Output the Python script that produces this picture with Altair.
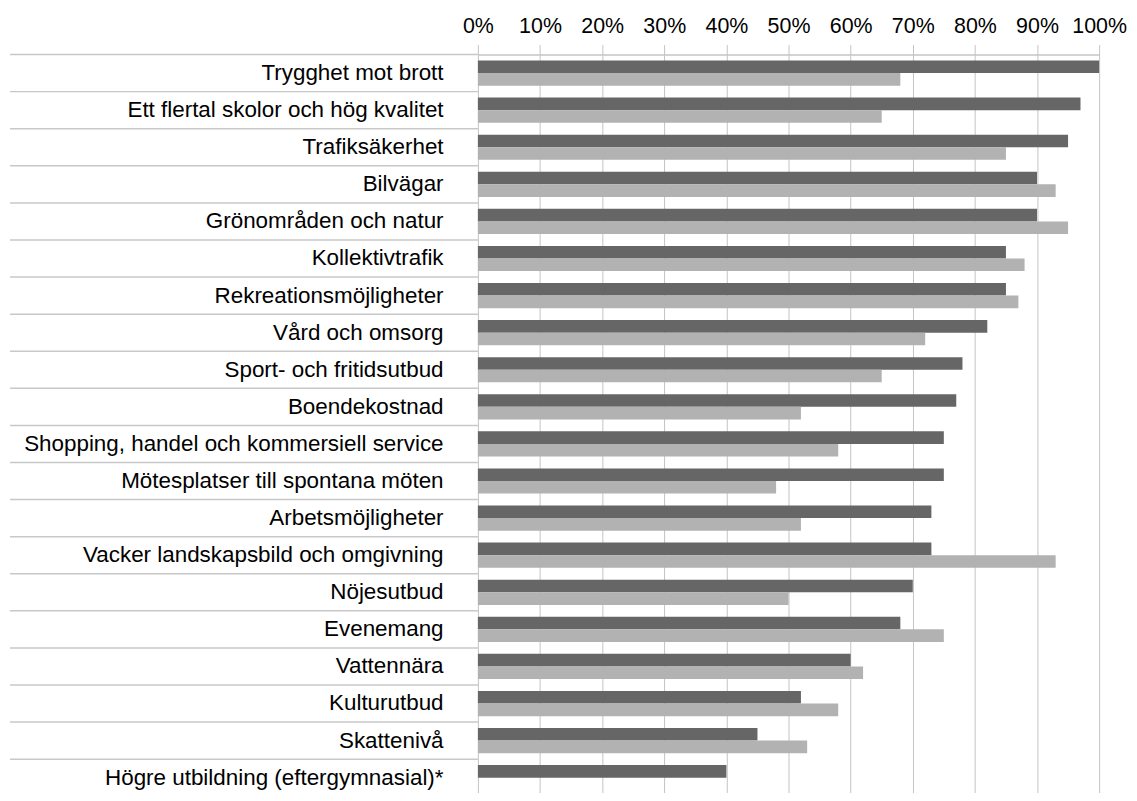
import altair as alt
import pandas as pd

categories = [
    "Trygghet mot brott",
    "Ett flertal skolor och hög kvalitet",
    "Trafiksäkerhet",
    "Bilvägar",
    "Grönområden och natur",
    "Kollektivtrafik",
    "Rekreationsmöjligheter",
    "Vård och omsorg",
    "Sport- och fritidsutbud",
    "Boendekostnad",
    "Shopping, handel och kommersiell service",
    "Mötesplatser till spontana möten",
    "Arbetsmöjligheter",
    "Vacker landskapsbild och omgivning",
    "Nöjesutbud",
    "Evenemang",
    "Vattennära",
    "Kulturutbud",
    "Skattenivå",
    "Högre utbildning (eftergymnasial)*",
]
dark_values = [100, 97, 95, 90, 90, 85, 85, 82, 78, 77, 75, 75, 73, 73, 70, 68, 60, 52, 45, 40]
light_values = [68, 65, 85, 93, 95, 88, 87, 72, 65, 52, 58, 48, 52, 93, 50, 75, 62, 58, 53, None]
series = ["Serie 1", "Serie 2"]
series_colors = ["#666666", "#b2b2b2"]
tick_values = [0, 10, 20, 30, 40, 50, 60, 70, 80, 90, 100]

rows = []
for c, d, l in zip(categories, dark_values, light_values):
    rows.append({"cat": c, "series": series[0], "value": d})
    if l is not None:
        rows.append({"cat": c, "series": series[1], "value": l})
df = pd.DataFrame(rows)
sep_df = pd.DataFrame({"cat": categories})

FONT = "Liberation Sans"
LINE = "#c4c4c4"

bars = alt.Chart(df).mark_bar().encode(
    x=alt.X(
        "value:Q",
        scale=alt.Scale(domain=[0, 100], nice=False),
        axis=alt.Axis(
            orient="top", values=tick_values, labelExpr="datum.value + '%'",
            grid=True, gridColor=LINE, gridWidth=1,
            ticks=True, tickSize=10, tickColor=LINE, tickWidth=1,
            domain=True, domainColor=LINE, domainWidth=1.5,
            labelFont=FONT, labelFontSize=21.5, labelColor="#000000", labelPadding=7,
            labelOverlap=False, labelFlush=False, title=None,
        ),
    ),
    y=alt.Y(
        "cat:N", sort=categories,
        scale=alt.Scale(paddingInner=0.32, paddingOuter=0.16),
        axis=alt.Axis(
            ticks=False, domain=False, labelFont=FONT, labelFontSize=22.5,
            labelColor="#000000", labelPadding=35, labelLimit=0, title=None,
        ),
    ),
    yOffset=alt.YOffset("series:N", sort=series),
    color=alt.Color("series:N", scale=alt.Scale(domain=series, range=series_colors), legend=None),
)

seps = alt.Chart(sep_df).mark_rule(color="#c8c8c8", strokeWidth=1.5).encode(
    y=alt.Y("cat:N", sort=categories, bandPosition=0, scale=alt.Scale(padding=0), axis=None),
    x=alt.value(-470),
    x2=alt.value(0),
)

chart = alt.layer(seps, bars).resolve_scale(y="independent").properties(
    width=624,
    height=745,
    autosize=alt.AutoSizeParams(type="none"),
    padding={"left": 472, "top": 45, "right": 30, "bottom": -5},
    background="white",
).configure_view(stroke=None)

chart.save("out.html", embed_options={"renderer": "svg", "actions": False})
